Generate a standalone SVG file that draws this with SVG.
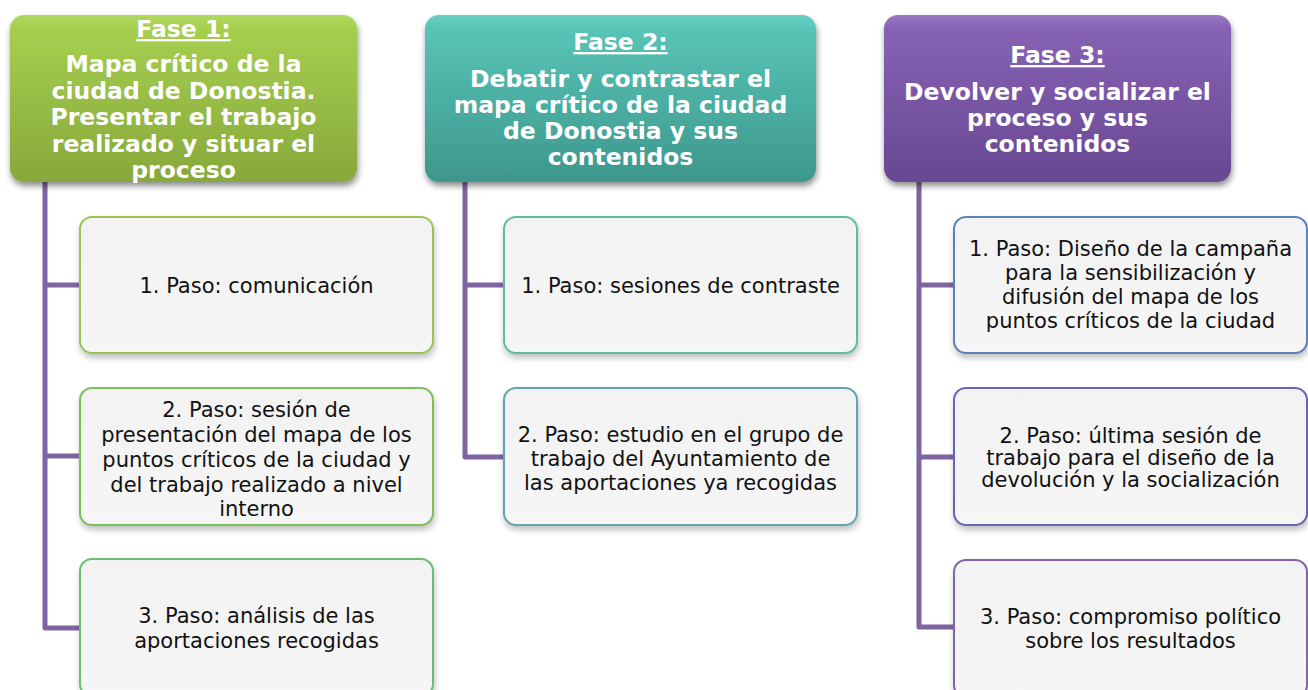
<svg xmlns="http://www.w3.org/2000/svg" width="1308" height="690" viewBox="0 0 1308 690">
<defs>
<linearGradient id="g1" x1="0" y1="0" x2="0" y2="1">
<stop offset="0" stop-color="#b0d85e"/><stop offset="0.08" stop-color="#a6cf4f"/><stop offset="1" stop-color="#87a83b"/>
</linearGradient>
<linearGradient id="g2" x1="0" y1="0" x2="0" y2="1">
<stop offset="0" stop-color="#66d0c3"/><stop offset="0.08" stop-color="#58c4b6"/><stop offset="1" stop-color="#3d978d"/>
</linearGradient>
<linearGradient id="g3" x1="0" y1="0" x2="0" y2="1">
<stop offset="0" stop-color="#9a78c6"/><stop offset="0.08" stop-color="#8762b4"/><stop offset="1" stop-color="#684892"/>
</linearGradient>
<linearGradient id="gs" x1="0" y1="0" x2="0" y2="1">
<stop offset="0" stop-color="#f2f2f2"/><stop offset="1" stop-color="#f6f6f6"/>
</linearGradient>
<filter id="sh" x="-10%" y="-10%" width="120%" height="130%">
<feGaussianBlur in="SourceAlpha" stdDeviation="3"/>
<feOffset dx="1" dy="4" result="b"/>
<feComponentTransfer><feFuncA type="linear" slope="0.45"/></feComponentTransfer>
<feMerge><feMergeNode/><feMergeNode in="SourceGraphic"/></feMerge>
</filter>
<filter id="sh2" x="-10%" y="-10%" width="120%" height="130%">
<feGaussianBlur in="SourceAlpha" stdDeviation="3"/>
<feOffset dx="1" dy="4" result="b"/>
<feComponentTransfer><feFuncA type="linear" slope="0.25"/></feComponentTransfer>
<feMerge><feMergeNode/><feMergeNode in="SourceGraphic"/></feMerge>
</filter>
</defs>
<style>
.hd{font-family:"DejaVu Sans",Verdana,sans-serif;font-weight:bold;font-size:23.5px;fill:#ffffff;text-anchor:middle}
.ul{text-decoration:underline}
.st{font-family:"DejaVu Sans",Verdana,sans-serif;font-size:21px;fill:#111111;text-anchor:middle}
.step{fill:url(#gs);stroke-width:2;filter:url(#sh2)}
.conn{fill:none;stroke:#8064a2;stroke-width:5;stroke-linejoin:round}
</style>
<rect width="1308" height="690" fill="#ffffff"/>

<g id="connectors">
<path class="conn" d="M45,182 V628 H80 M45,285 H80 M45,456 H80"/>
<path class="conn" d="M465,182 V457 H504 M465,285 H504"/>
<path class="conn" d="M919,182 V627 H954 M919,285 H954 M919,457 H954"/>
</g>

<g id="fase1">
<rect x="10" y="15" width="347" height="167" rx="14" fill="url(#g1)" filter="url(#sh)"/>
<text class="hd"><tspan class="ul" x="183.5" y="37">Fase 1:</tspan><tspan x="183.5" y="72">Mapa crítico de la</tspan><tspan x="183.5" y="98.5">ciudad de Donostia.</tspan><tspan x="183.5" y="125">Presentar el trabajo</tspan><tspan x="183.5" y="151.5">realizado y situar el</tspan><tspan x="183.5" y="178">proceso</tspan></text>
</g>
<g id="fase2">
<rect x="425" y="15" width="391" height="167" rx="14" fill="url(#g2)" filter="url(#sh)"/>
<text class="hd"><tspan class="ul" x="620.5" y="50">Fase 2:</tspan><tspan x="620.5" y="87">Debatir y contrastar el</tspan><tspan x="620.5" y="113">mapa crítico de la ciudad</tspan><tspan x="620.5" y="139">de Donostia y sus</tspan><tspan x="620.5" y="165">contenidos</tspan></text>
</g>
<g id="fase3">
<rect x="884" y="15" width="347" height="167" rx="14" fill="url(#g3)" filter="url(#sh)"/>
<text class="hd"><tspan class="ul" x="1057.5" y="63">Fase 3:</tspan><tspan x="1057.5" y="100">Devolver y socializar el</tspan><tspan x="1057.5" y="126">proceso y sus</tspan><tspan x="1057.5" y="152">contenidos</tspan></text>
</g>

<g id="f1s1">
<rect class="step" x="80" y="217" width="353" height="136" rx="12" stroke="#9cc257"/>
<text class="st" x="256.5" y="293">1. Paso: comunicación</text>
</g>
<g id="f1s2">
<rect class="step" x="80" y="388" width="353" height="137" rx="12" stroke="#7cbe5c"/>
<text class="st"><tspan x="256.5" y="417">2. Paso: sesión de</tspan><tspan x="256.5" y="442">presentación del mapa de los</tspan><tspan x="256.5" y="467">puntos críticos de la ciudad y</tspan><tspan x="256.5" y="492">del trabajo realizado a nivel</tspan><tspan x="256.5" y="516">interno</tspan></text>
</g>
<g id="f1s3">
<rect class="step" x="80" y="559" width="353" height="137" rx="12" stroke="#6dbd72"/>
<text class="st"><tspan x="256.5" y="623">3. Paso: análisis de las</tspan><tspan x="256.5" y="648">aportaciones recogidas</tspan></text>
</g>

<g id="f2s1">
<rect class="step" x="504" y="217" width="353" height="136" rx="12" stroke="#5fbc9c"/>
<text class="st" x="680.5" y="293">1. Paso: sesiones de contraste</text>
</g>
<g id="f2s2">
<rect class="step" x="504" y="388" width="353" height="137" rx="12" stroke="#5fa7ae"/>
<text class="st"><tspan x="680.5" y="442">2. Paso: estudio en el grupo de</tspan><tspan x="680.5" y="466">trabajo del Ayuntamiento de</tspan><tspan x="680.5" y="490">las aportaciones ya recogidas</tspan></text>
</g>

<g id="f3s1">
<rect class="step" x="954" y="217" width="353" height="136" rx="12" stroke="#5d82b8"/>
<text class="st"><tspan x="1130.5" y="256">1. Paso: Diseño de la campaña</tspan><tspan x="1130.5" y="280">para la sensibilización y</tspan><tspan x="1130.5" y="304">difusión del mapa de los</tspan><tspan x="1130.5" y="328">puntos críticos de la ciudad</tspan></text>
</g>
<g id="f3s2">
<rect class="step" x="954" y="388" width="353" height="137" rx="12" stroke="#6866b2"/>
<text class="st"><tspan x="1130.5" y="443">2. Paso: última sesión de</tspan><tspan x="1130.5" y="465">trabajo para el diseño de la</tspan><tspan x="1130.5" y="487">devolución y la socialización</tspan></text>
</g>
<g id="f3s3">
<rect class="step" x="954" y="560" width="353" height="137" rx="12" stroke="#8363ac"/>
<text class="st"><tspan x="1130.5" y="624">3. Paso: compromiso político</tspan><tspan x="1130.5" y="648">sobre los resultados</tspan></text>
</g>
</svg>
